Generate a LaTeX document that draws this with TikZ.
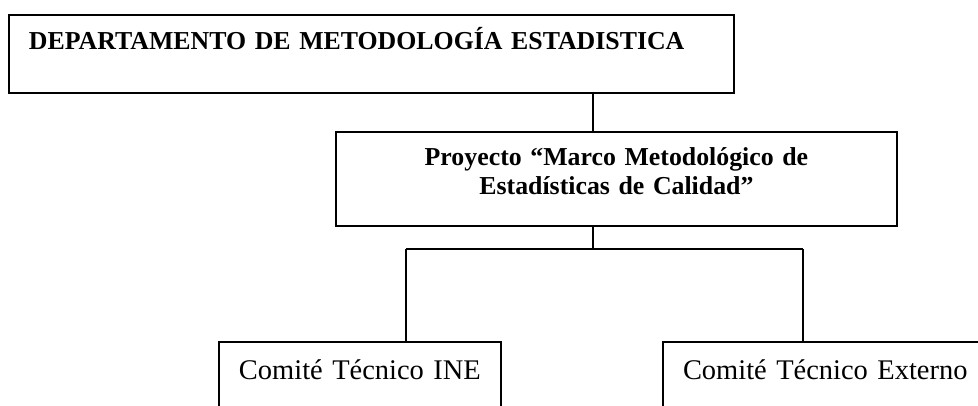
\documentclass[tikz,border=0pt]{standalone}
\usepackage{fontspec}
\setmainfont{Liberation Serif}
\usetikzlibrary{calc}

\tikzset{
  kasten/.style={draw, line width=0.9pt, inner ysep=0pt, outer sep=0pt, anchor=north west},
  titel/.style={font=\bfseries\fontsize{14.7}{15.4}\selectfont},
  komitee/.style={kasten, inner xsep=0.4cm, align=left, text height=0.76cm, text depth=0.8cm,
    font=\fontsize{16.2}{18}\selectfont},
  linie/.style={line width=0.9pt}
}

\begin{document}
\begin{tikzpicture}[x=0.02cm, y=-0.02cm]
        % Rahmen
        \fill[white] (0, 0) rectangle (978, 406);
        \clip (0, 0) rectangle (978, 406);

        % Kaesten
        \node[kasten, titel, inner xsep=0.4cm, text width=13.7cm, align=left,
              text height=0.7cm, text depth=0.86cm] (depto) at (9, 15)
              {DEPARTAMENTO DE METODOLOGÍA ESTADISTICA};
        \node[kasten, titel, inner xsep=0pt, text width=11.22cm, align=center,
              text height=0.68cm, text depth=1.2cm] (proyecto) at (336, 132)
              {Proyecto “Marco Metodológico de\\[1pt] Estadísticas de Calidad”\hspace*{0.84cm}};
        \node[komitee, text width=4.84cm] (ine) at (219, 342) {Comité Técnico INE};
        \node[komitee, text width=5.84cm] (externo) at (663, 342) {Comité Técnico Externo};

        % Verzweigung
        \coordinate (mitte) at (593, 249);
        \coordinate (links) at (406, 249);
        \coordinate (rechts) at (803, 249);

        % Linien
        \draw[linie] (depto.south -| mitte) -- (proyecto.north -| mitte);
        \draw[linie] (proyecto.south -| mitte) -- (mitte);
        \draw[linie] (links) -- (rechts);
        \draw[linie] (links) -- (ine.north -| links);
        \draw[linie] (rechts) -- (externo.north -| rechts);

    \end{tikzpicture}
\end{document}
